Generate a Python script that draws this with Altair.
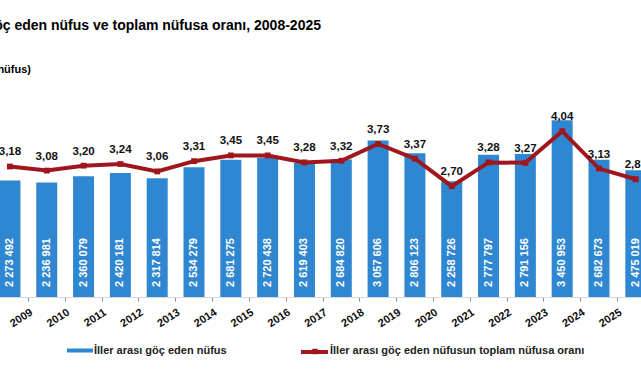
import altair as alt
import pandas as pd

years = list(range(2008, 2026))
migrants = [2273492, 2236981, 2360079, 2420181, 2317814, 2534279, 2681275, 2720438,
            2619403, 2684820, 3057606, 2806123, 2258726, 2777797, 2791156, 3450953,
            2682673, 2475019]
ratio = [3.18, 3.08, 3.20, 3.24, 3.06, 3.31, 3.45, 3.45, 3.28, 3.32, 3.73, 3.37,
         2.70, 3.28, 3.27, 4.04, 3.13, 2.87]

title_text = "İller arası göç eden nüfus ve toplam nüfusa oranı, 2008-2025"
unit_text = "(nüfus)"
legend_bar = "İller arası göç eden nüfus"
legend_line = "İller arası göç eden nüfusun toplam nüfusa oranı"

BLUE = "#2F86D1"
RED = "#A0161D"
FONT = "Liberation Sans"

df = pd.DataFrame({
    "year": years,
    "migrants": migrants,
    "ratio": ratio,
    "mig_label": [f"{v:,}".replace(",", " ") for v in migrants],
    "ratio_label": [f"{v:.2f}".replace(".", ",") for v in ratio],
})

W, H = 641, 297
x_scale = alt.Scale(domain=[2007.866, 2025.005], zero=False, nice=False)
x_axis = alt.Axis(values=years, tickOffset=-18.7, labelAngle=-33, format="d",
                  labelFont=FONT, labelFontWeight="bold", labelFontSize=11,
                  labelColor="#111", title=None, grid=False, domainColor="#d9d9d9",
                  tickColor="#8c8c8c", tickSize=4, labelPadding=5,
                  labelOverlap=False, labelFlush=False, labelBound=False)
x_enc = alt.X("year:Q", scale=x_scale, axis=x_axis)

y_pop = alt.Y("migrants:Q", scale=alt.Scale(domain=[0, 5801000], nice=False), axis=None)
y_rat = alt.Y("ratio:Q", scale=alt.Scale(domain=[0, 7.237], nice=False), axis=None)

base = alt.Chart(df)

bars = base.mark_bar(orient="vertical", size=21, color=BLUE).encode(x=x_enc, y=y_pop)

bar_labels = base.mark_text(angle=270, align="left", baseline="middle", color="white",
                            font=FONT, fontWeight="bold", fontSize=11).encode(
    x=x_enc, y=alt.value(287), text="mig_label:N")

line = base.mark_line(color=RED, strokeWidth=4).encode(x=x_enc, y=y_rat)
pts = base.mark_point(shape="square", filled=True, size=34, color=RED, opacity=1).encode(
    x=x_enc, y=y_rat)
ratio_labels = base.mark_text(dy=-14, font=FONT, fontWeight="bold", fontSize=11.5,
                              color="#111", baseline="middle").encode(
    x=x_enc, y=y_rat, text="ratio_label:N")

one = pd.DataFrame({"t": [title_text], "u": [unit_text], "l1": [legend_bar], "l2": [legend_line]})
ann = alt.Chart(one)
title = ann.mark_text(align="right", baseline="alphabetic", font=FONT, fontWeight="bold",
                      fontSize=14, color="#000").encode(
    x=alt.value(321), y=alt.value(29.5), text="t:N")
unit = ann.mark_text(align="right", baseline="alphabetic", font=FONT, fontWeight="bold",
                     fontSize=11, color="#000").encode(
    x=alt.value(31), y=alt.value(73), text="u:N")
leg_rect = ann.mark_rect(color=BLUE).encode(
    x=alt.value(67), x2=alt.value(93), y=alt.value(348.5), y2=alt.value(352.5))
leg_t1 = ann.mark_text(align="left", baseline="alphabetic", font=FONT, fontWeight="bold",
                       fontSize=11, color="#222").encode(
    x=alt.value(94), y=alt.value(354), text="l1:N")
leg_rule = ann.mark_rule(color=RED, strokeWidth=4).encode(
    x=alt.value(301), x2=alt.value(328), y=alt.value(352))
leg_pt = ann.mark_point(shape="square", filled=True, size=30, color=RED, opacity=1).encode(
    x=alt.value(315), y=alt.value(351.5))
leg_t2 = ann.mark_text(align="left", baseline="alphabetic", font=FONT, fontWeight="bold",
                       fontSize=11, color="#222").encode(
    x=alt.value(330), y=alt.value(354), text="l2:N")

chart = alt.layer(
    bars, bar_labels, line, pts, ratio_labels,
    title, unit, leg_rect, leg_t1, leg_rule, leg_pt, leg_t2
).resolve_scale(y="independent").properties(
    width=W, height=H,
    padding={"left": 0, "top": 0, "right": 0, "bottom": 83},
    autosize="none",
    background="white",
).configure_view(stroke=None)

chart.save("out.html", embed_options={"renderer": "svg", "actions": False})
